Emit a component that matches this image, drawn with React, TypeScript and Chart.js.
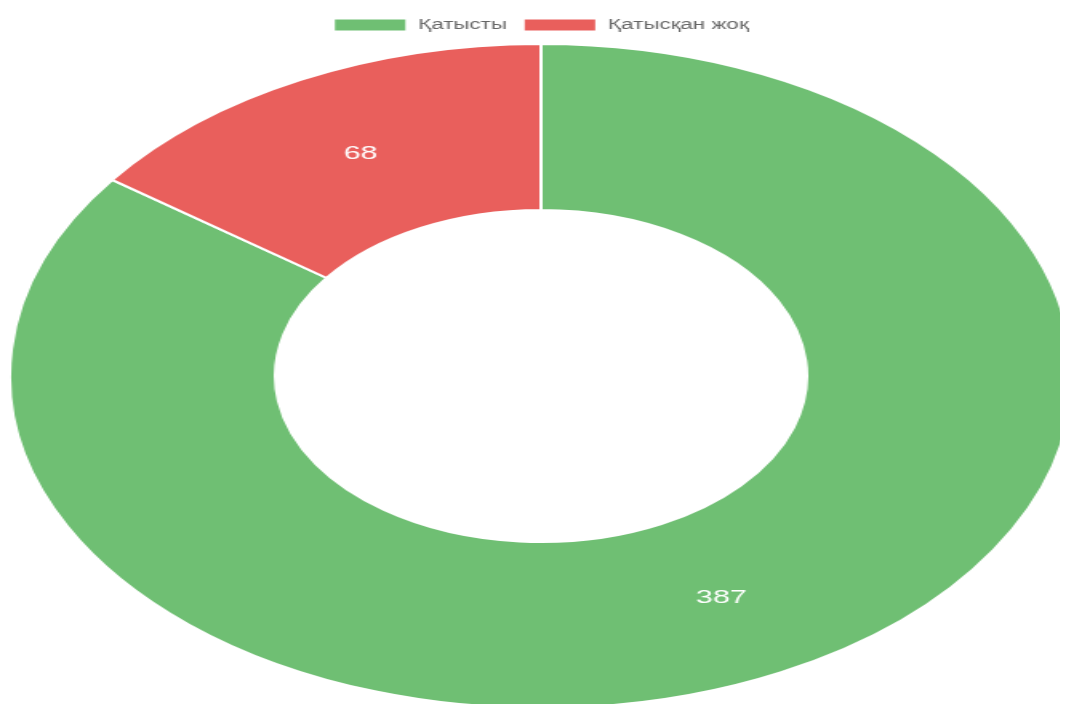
import React, { useEffect, useRef } from "react";
import { Chart, registerables } from "chart.js";

Chart.register(...registerables);

const categories: string[] = ["Қатысты", "Қатысқан жоқ"];
const values: number[] = [387, 68];
const sliceColors: string[] = ["#6fbf73", "#e95f5c"];

const FONT = "'Liberation Sans', Arial, sans-serif";

const valueLabels = {
  id: "valueLabels",
  afterDatasetsDraw(chart: any) {
    const ctx = chart.ctx;
    const meta = chart.getDatasetMeta(0);
    ctx.save();
    ctx.fillStyle = "#ffffff";
    ctx.font = `19px ${FONT}`;
    ctx.textAlign = "center";
    ctx.textBaseline = "middle";
    meta.data.forEach((arc: any, i: number) => {
      const p = arc.tooltipPosition();
      ctx.fillText(String(chart.data.datasets[0].data[i]), p.x, p.y);
    });
    ctx.restore();
  },
};

export default function App() {
  const ref = useRef<HTMLCanvasElement | null>(null);
  useEffect(() => {
    if (!ref.current) return;
    const chart = new Chart(ref.current, {
      type: "doughnut",
      data: {
        labels: categories,
        datasets: [
          {
            data: values,
            backgroundColor: sliceColors,
            borderColor: "#ffffff",
            borderWidth: 2,
          },
        ],
      },
      options: {
        responsive: false,
        devicePixelRatio: 1,
        animation: false,
        cutout: "50%",
        plugins: {
          legend: {
            position: "top",
            labels: {
              color: "#666666",
              boxWidth: 46,
              boxHeight: 13,
              font: { size: 14, family: FONT },
            },
          },
          tooltip: { enabled: false },
        },
      },
      plugins: [valueLabels],
    });
    return () => chart.destroy();
  }, []);
  return (
    <div style={{ width: 1060, height: 696, overflow: "hidden" }}>
      <canvas
        ref={ref}
        width={666}
        height={702}
        style={{ width: 1066, height: 702, display: "block" }}
      />
    </div>
  );
}
